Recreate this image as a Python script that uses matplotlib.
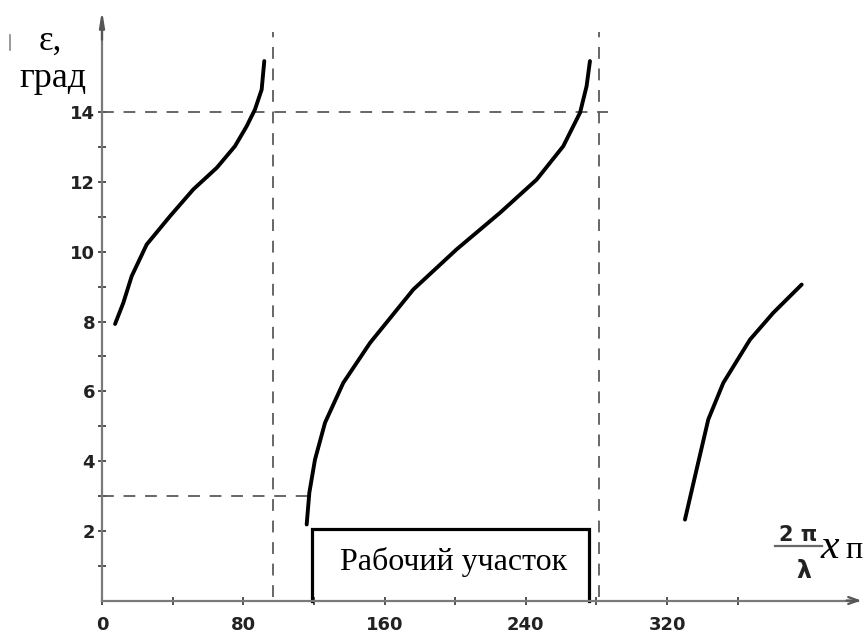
import matplotlib
matplotlib.use("Agg")
import matplotlib.pyplot as plt
from matplotlib.lines import Line2D

plt.rcParams['lines.scale_dashes'] = False

# ---- data ----
curve1_x = [7.4, 12.1, 16.8, 25.3, 38.5, 51.7, 65.0, 75.3, 81.9, 86.6, 90.4, 91.9]
curve1_y = [7.93, 8.54, 9.30, 10.21, 11.02, 11.79, 12.41, 13.03, 13.60, 14.08, 14.65, 15.47]
curve2_x = [115.9, 117.4, 120.6, 126.3, 136.6, 151.8, 176.3, 200.8, 225.4, 246.1, 261.2, 270.7, 274.4, 276.3]
curve2_y = [2.18, 3.09, 4.04, 5.10, 6.24, 7.39, 8.92, 10.07, 11.12, 12.07, 13.03, 13.99, 14.75, 15.47]
curve3_x = [330.1, 336.7, 343.3, 351.8, 366.9, 380.1, 396.2]
curve3_y = [2.32, 3.76, 5.19, 6.24, 7.48, 8.25, 9.06]

vlines_x = [96.6, 281.7]
vline_top = 16.3
hline_14 = (14, 286.6)
hline_3 = (3, 117.8)

box_x = (118.7, 275.8)
box_h = 2.06
box_label = "Рабочий участок"

xticks_major = [0, 80, 160, 240, 320]
xticks_minor = [40, 120, 200, 280, 360]
yticks_major = [2, 4, 6, 8, 10, 12, 14]
yticks_minor = [1, 3, 5, 7, 9, 11, 13]

W, H = 865, 633
fig = plt.figure(figsize=(W / 100, H / 100), dpi=100)
ax = fig.add_axes([0, 0, 1, 1])
fig.patch.set_facecolor('white')

x0px, sx = 102.0, 1.766
y0px, sy = 600.5, 34.87
ax.set_xlim(-x0px / sx, (W - x0px) / sx)
ax.set_ylim((y0px - H) / sy, y0px / sy)

axis_col = '#7a7a7a'
for s in ['top', 'right']:
    ax.spines[s].set_visible(False)
ax.spines['left'].set_position(('data', 0))
ax.spines['bottom'].set_position(('data', 0))
ax.spines['left'].set_bounds(0, 16.6)
ax.spines['bottom'].set_bounds(0, 428)
for s in ['left', 'bottom']:
    ax.spines[s].set_color(axis_col)
    ax.spines[s].set_linewidth(1.6)

ax.set_xticks(xticks_major)
ax.set_xticks(xticks_minor, minor=True)
ax.set_yticks(yticks_major)
ax.set_yticks(yticks_minor, minor=True)
ax.set_xticklabels([str(v) for v in xticks_major])
ax.set_yticklabels([str(v) for v in yticks_major])
ax.tick_params(which='both', direction='inout', length=6, width=1.3, color='#444444')
ax.tick_params(axis='x', which='major', pad=8, labelsize=13, labelcolor='#222222')
ax.tick_params(axis='y', which='major', pad=2, labelsize=13, labelcolor='#222222')
for lab in ax.get_xticklabels() + ax.get_yticklabels():
    lab.set_fontweight('bold')

# arrow heads
ax.annotate('', xy=(0, 17.0), xytext=(0, 16.0),
            arrowprops=dict(arrowstyle='-|>,head_length=0.9,head_width=0.15',
                            color='#555555', lw=1.6))
ax.annotate('', xy=(431.5, 0), xytext=(420, 0),
            arrowprops=dict(arrowstyle='->,head_length=0.7,head_width=0.25',
                            color='#555555', lw=1.6))

# dashed guide lines
dash_kw = dict(color='#5a5a5a', lw=1.3, dashes=(8.5, 7.0))
for xv in vlines_x:
    ax.plot([xv, xv], [0.1, vline_top], **dash_kw)
ax.plot([0, hline_14[1]], [hline_14[0], hline_14[0]], **dash_kw)
ax.plot([0, hline_3[1]], [hline_3[0], hline_3[0]], **dash_kw)

# curves
for cx, cy in [(curve1_x, curve1_y), (curve2_x, curve2_y), (curve3_x, curve3_y)]:
    ax.plot(cx, cy, color='black', lw=2.8, solid_capstyle='round', solid_joinstyle='round')

# working-range box
ax.plot([box_x[0], box_x[0], box_x[1], box_x[1]], [0, box_h, box_h, 0],
        color='black', lw=2.3, solid_joinstyle='miter')
ax.text(199, 0.875, box_label, ha='center', va='baseline',
        fontsize=23, family='Liberation Serif', color='black')

# axis labels
def fx(px):
    return px / W
def fy(py):
    return 1 - py / H

fig.text(fx(50), fy(50), 'ε,', ha='center', va='baseline', fontsize=25,
         family='Liberation Serif', color='black')
fig.text(fx(53), fy(87), 'град', ha='center', va='baseline', fontsize=26,
         family='Liberation Serif', color='black')

fig.text(fx(798), fy(541), '2 π', ha='center', va='baseline', fontsize=15,
         fontweight='bold', family='DejaVu Sans', color='#222222')
fig.add_artist(Line2D([fx(775), fx(822)], [fy(546), fy(546)], color='#666666', lw=1.6))
fig.text(fx(804), fy(578), 'λ', ha='center', va='baseline', fontsize=17,
         fontweight='bold', family='DejaVu Sans', color='#222222')
fig.text(fx(821), fy(558), 'x', ha='left', va='baseline', fontsize=30,
         family='Liberation Serif', style='italic', color='black')
fig.text(fx(845), fy(558), 'п', ha='left', va='baseline', fontsize=23,
         family='Liberation Serif', color='black')

# small scan mark at the top-left
fig.add_artist(Line2D([fx(10), fx(10)], [fy(35), fy(50)], color='#888888', lw=1.2))

fig.savefig('out.png', dpi=100, facecolor='white')
